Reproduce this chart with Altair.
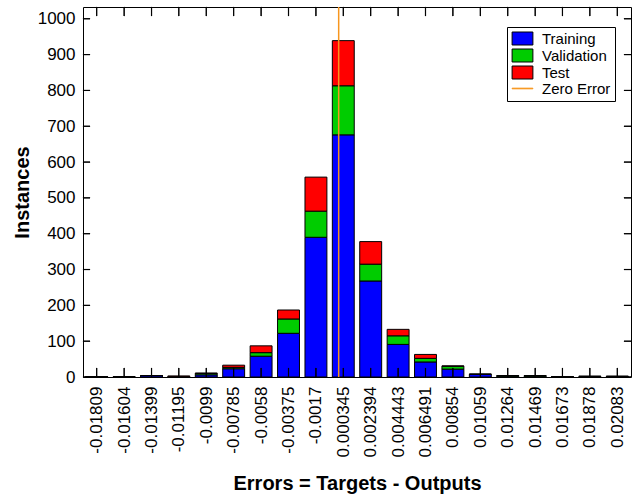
import altair as alt
import pandas as pd

# Bin centres (error values) and per-bin counts
centers = [-0.01809, -0.01604, -0.01399, -0.01195, -0.0099, -0.00785, -0.0058,
           -0.00375, -0.0017, 0.000345, 0.002394, 0.004443, 0.006491, 0.00854,
           0.01059, 0.01264, 0.01469, 0.01673, 0.01878, 0.02083]
training = [1, 1, 4, 1, 6, 23, 58, 122, 390, 676, 268, 91, 42, 22, 7, 2, 2, 1, 1, 1]
validation = [0, 0, 0, 0, 4, 4, 10, 40, 73, 137, 47, 24, 10, 8, 1, 2, 2, 0, 1, 1]
test = [0, 0, 0, 2, 1, 6, 19, 25, 95, 126, 63, 18, 11, 1, 0, 0, 0, 0, 0, 0]
series_names = ["Training", "Validation", "Test", "Zero Error"]
series_colors = ["#0000FF", "#00CC00", "#FF0000", "#F7961E"]
y_ticks = list(range(0, 1001, 100))
zero_error = [0.0]

W, H = 548, 370
n = len(centers)
bw = (centers[-1] - centers[0]) / (n - 1)
xmin = centers[0] - bw / 2
xmax = centers[-1] + bw / 2
ymax = 1.1 * max(a + b + c for a, b, c in zip(training, validation, test))

rows = []
for i, c in enumerate(centers):
    base = 0
    for k, (name, vals) in enumerate(zip(series_names[:3], [training, validation, test])):
        rows.append({"x0": c - 0.4 * bw, "x1": c + 0.4 * bw,
                     "series": name, "y0": base, "y1": base + vals[i]})
        base += vals[i]

# inward tick marks (MATLAB style box axes), sizes in data units
px_x = (xmax - xmin) / W
px_y = ymax / H
xt_len = 9 * px_y
yt_len = 7 * px_x
hx = 0.1 * px_x
hy = 0.1 * px_y
for c in centers:
    rows.append({"x0": c - hx, "x1": c + hx, "series": "tick", "y0": 0.0, "y1": xt_len})
    rows.append({"x0": c - hx, "x1": c + hx, "series": "tick", "y0": ymax - xt_len, "y1": ymax})
for v in y_ticks:
    rows.append({"x0": xmin, "x1": xmin + yt_len, "series": "tick", "y0": v - hy, "y1": v + hy})
    rows.append({"x0": xmax - yt_len, "x1": xmax, "series": "tick", "y0": v - hy, "y1": v + hy})
df = pd.DataFrame(rows)

FONT = "Liberation Sans"
xscale = alt.Scale(domain=[xmin, xmax], nice=False, zero=False)
yscale = alt.Scale(domain=[0, ymax], nice=False)
color_scale = alt.Scale(domain=series_names, range=series_colors)
RECT = "M-1.6,-1H1.6V1H-1.6Z"
LINE = "M-1.6,-0.05H1.6V0.05H-1.6Z"
shape_scale = alt.Scale(domain=series_names, range=[RECT, RECT, RECT, LINE])
stroke_scale = alt.Scale(domain=series_names, range=["black", "black", "black", "#F7961E"])

xaxis = alt.Axis(
    values=centers, labelExpr="replace(format(datum.value, '.4~g'), '\u2212', '-')",
    labelAngle=270, labelPadding=9, labelOverlap=False,
    labelFont=FONT, labelFontSize=17, labelColor="black",
    title="Errors = Targets - Outputs", titleFont=FONT, titleFontSize=20,
    titleFontWeight="bold", titleColor="black", titlePadding=17,
    ticks=False, domain=False, grid=False)
yaxis = alt.Axis(
    values=y_ticks, format="d", labelPadding=8, labelOverlap=False,
    labelFont=FONT, labelFontSize=17,
    labelColor="black", title="Instances", titleFont=FONT, titleFontSize=20,
    titleFontWeight="bold", titleColor="black", titlePadding=5,
    ticks=False, domain=False, grid=False)

legend = alt.Legend(
    title=None, orient="none", legendX=424, legendY=20,
    fillColor="white", strokeColor="black", padding=4, cornerRadius=0,
    labelFont=FONT, labelFontSize=15, labelColor="black",
    symbolSize=169, symbolOffset=4, labelOffset=12, rowPadding=0,
    symbolStrokeWidth=1, symbolOpacity=1,
)

bars = alt.Chart(df).mark_bar(strokeWidth=1, opacity=1).encode(
    x=alt.X("x0:Q", scale=xscale, axis=xaxis),
    x2="x1:Q",
    y=alt.Y("y0:Q", scale=yscale, axis=yaxis),
    y2="y1:Q",
    color=alt.condition("datum.series == 'tick'", alt.value("black"),
                        alt.Color("series:N", scale=color_scale, legend=legend)),
    stroke=alt.value("black"),
)

legend_src = pd.DataFrame({"series": series_names})
legend_pts = alt.Chart(legend_src).transform_filter("false").mark_point(
    filled=True, opacity=1, strokeWidth=1).encode(
    color=alt.Color("series:N", scale=color_scale, legend=legend),
    shape=alt.Shape("series:N", scale=shape_scale, legend=legend),
    stroke=alt.Stroke("series:N", scale=stroke_scale, legend=legend),
)

zero_df = pd.DataFrame({"x": zero_error})
zero_line = alt.Chart(zero_df).mark_rule(strokeWidth=1.5, color="#F7961E").encode(
    x=alt.X("x:Q", scale=xscale, axis=xaxis),
)

chart = alt.layer(bars, zero_line, legend_pts).properties(
    width=W, height=H,
    autosize=alt.AutoSizeParams(type="none"),
    padding={"left": 83, "top": 7, "right": 7, "bottom": 121},
    background="white",
).configure_view(stroke="black", strokeWidth=1)

chart.save("out.html", embed_options={"renderer": "svg", "actions": False})
